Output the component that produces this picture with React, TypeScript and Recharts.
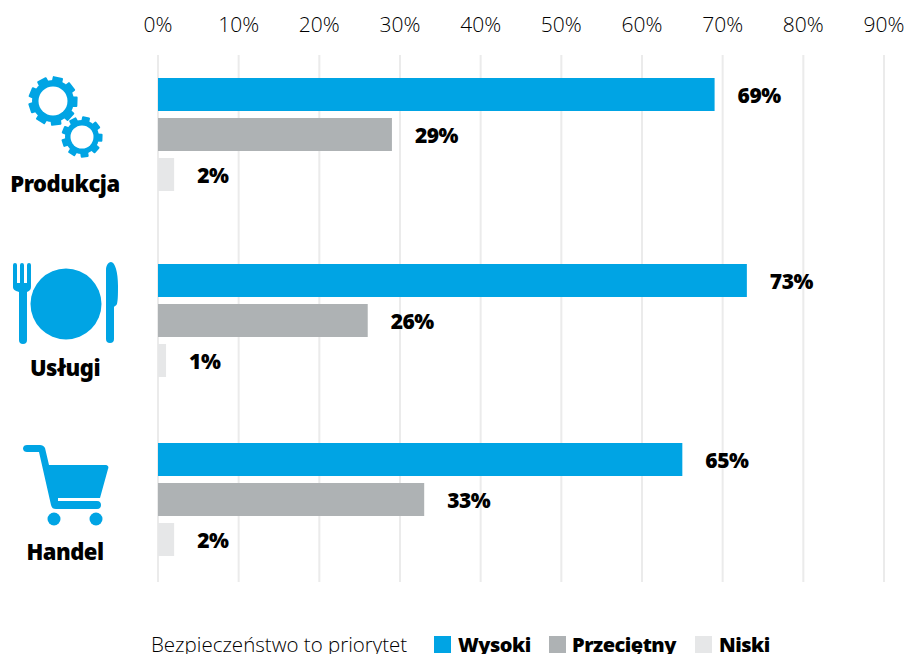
import { BarChart, Bar, XAxis, YAxis, CartesianGrid, LabelList } from 'recharts';

const WIDTH = 907;
const HEIGHT = 654;

const sectors = ['Produkcja', 'Usługi', 'Handel'];
const wysoki = [69, 73, 65];
const przecietny = [29, 26, 33];
const niski = [2, 1, 2];
const percentTicks = [0, 10, 20, 30, 40, 50, 60, 70, 80, 90];
const legendTitle = 'Bezpieczeństwo to priorytet';
const seriesNames = ['Wysoki', 'Przeciętny', 'Niski'];

const BLUE = '#00a4e4';
const GREY = '#aeb2b4';
const LIGHT = '#e6e7e8';
const GRID = '#ebebeb';
const THIN = '"Open Sans", sans-serif';
const HEAVY = '"Noto Sans", sans-serif';

const plotLeft = 158;
const plotRight = WIDTH - 884;
const domain: [number, number] = [0, 90];

// top edge of each sector's band; the band is 2px taller than its three bars
const groupTops = [77, 263, 442];
const groupHeight = 115;

function Gears() {
  const gear = (cx: number, cy: number, r: number, hole: number, teeth: number, toothW: number) => (
    <g>
      <circle cx={cx} cy={cy} r={r} fill={BLUE} />
      {Array.from({ length: teeth }, (_, i) => (
        <rect
          key={i}
          x={cx - toothW / 2}
          y={cy - r - 3.5}
          width={toothW}
          height={7}
          rx={1}
          fill={BLUE}
          transform={`rotate(${(i * 360) / teeth + 12} ${cx} ${cy})`}
        />
      ))}
      <circle cx={cx} cy={cy} r={hole} fill="#fff" />
    </g>
  );
  return (
    <g>
      {gear(53, 101, 21, 14.5, 9, 10.5)}
      {gear(82, 137, 17, 11.5, 9, 8)}
    </g>
  );
}

function Cutlery() {
  return (
    <g fill={BLUE}>
      <circle cx={66} cy={304} r={35.5} />
      <path d="M13 265a1.500 1.500 0 0 1 4 0v18h3v-18a1.500 1.500 0 0 1 4 0v18h3v-18a1.500 1.500 0 0 1 4 0v22c0 3-2 4-4 5v48a4 4 0 0 1-8 0v-48c-3-1-6-2-6-5z" />
      <path d="M106 270c0-4 2-8 5-8 4 0 7 10 7 24 0 7 0 14-1 18-1 2-3 2-3 3v32a4 4 0 0 1-8 0z" />
    </g>
  );
}

function Cart() {
  return (
    <g fill={BLUE}>
      <path d="M27 445h13c2 0 4 1 5 3l4 17h56c3 0 4 2 3 4l-8 29H58v3h39c3 0 4 2 4 4s-1 4-4 4H56c-3 0-4-1-5-4L39 452H27c-2 0-4-1-4-3.500s2-3.500 4-3.500z" />
      <circle cx={54} cy={519} r={6.5} />
      <circle cx={96} cy={519} r={6.5} />
    </g>
  );
}

function SectorLabels() {
  const baselines = [192, 376, 560];
  return (
    <g>
      {sectors.map((name, i) => (
        <text key={name} x={65} y={baselines[i]} textAnchor="middle" fontFamily={HEAVY} fontWeight={900} fontSize={22} letterSpacing={-0.5} fill="#000">
          {name}
        </text>
      ))}
    </g>
  );
}

function PercentLabel(props: any) {
  const { x, y, width, height, value } = props;
  return (
    <text x={x + width + 23} y={y + height / 2 + 8} fontFamily={HEAVY} fontWeight={900} fontSize={21} letterSpacing={-0.5} fill="#000">
      {value}%
    </text>
  );
}

// one sector on its own band, sharing the x scale with the grid layer below
function SectorBars({ index }: { index: number }) {
  const row = [{ name: sectors[index], wysoki: wysoki[index], przecietny: przecietny[index], niski: niski[index] }];
  return (
    <div style={{ position: 'absolute', left: 0, top: groupTops[index] }}>
      <BarChart
        width={WIDTH}
        height={groupHeight}
        data={row}
        layout="vertical"
        barSize={33}
        barGap={7}
        barCategoryGap={0}
        margin={{ top: 0, right: plotRight, bottom: 0, left: plotLeft }}
      >
        <XAxis type="number" domain={domain} hide />
        <YAxis type="category" dataKey="name" hide />
        <Bar dataKey="wysoki" fill={BLUE} isAnimationActive={false}>
          <LabelList dataKey="wysoki" content={PercentLabel} />
        </Bar>
        <Bar dataKey="przecietny" fill={GREY} isAnimationActive={false}>
          <LabelList dataKey="przecietny" content={PercentLabel} />
        </Bar>
        <Bar dataKey="niski" fill={LIGHT} isAnimationActive={false}>
          <LabelList dataKey="niski" content={PercentLabel} />
        </Bar>
      </BarChart>
    </div>
  );
}

// the axis only draws once a series is attached, so this layer carries an unpainted one
function GridLayer() {
  return (
    <div style={{ position: 'absolute', left: 0, top: 0 }}>
      <BarChart
        width={WIDTH}
        height={HEIGHT}
        data={sectors.map((name, i) => ({ name, wysoki: wysoki[i] }))}
        layout="vertical"
        margin={{ top: 25, right: plotRight, bottom: 72, left: plotLeft }}
      >
        <CartesianGrid horizontal={false} stroke={GRID} strokeWidth={2} />
        <XAxis
          type="number"
          orientation="top"
          domain={domain}
          ticks={percentTicks}
          interval={0}
          height={30}
          axisLine={false}
          tickLine={false}
          tickMargin={17}
          tickFormatter={(v: number) => `${v}%`}
          tick={{ fontFamily: THIN, fontWeight: 300, fontSize: 21, fill: '#000' }}
        />
        <YAxis type="category" dataKey="name" hide />
        <Bar dataKey="wysoki" fill="none" isAnimationActive={false} />
      </BarChart>
    </div>
  );
}

function LegendRow() {
  const swatches = [
    { color: BLUE, x: 434, textX: 458 },
    { color: GREY, x: 549, textX: 572 },
    { color: LIGHT, x: 695, textX: 719 },
  ];
  return (
    <g>
      <text x={151} y={652} fontFamily={THIN} fontWeight={300} fontSize={20.5} fill="#000">
        {legendTitle}
      </text>
      {swatches.map((s, i) => (
        <g key={s.x}>
          <rect x={s.x} y={636} width={17} height={17} fill={s.color} />
          <text x={s.textX} y={652} fontFamily={HEAVY} fontWeight={900} fontSize={20} letterSpacing={-0.5} fill="#000">
            {seriesNames[i]}
          </text>
        </g>
      ))}
    </g>
  );
}

export default function App() {
  return (
    <div style={{ position: 'absolute', left: 0, top: 0, width: WIDTH, height: HEIGHT, overflow: 'hidden', background: '#fff' }}>
      <GridLayer />
      {sectors.map((name, i) => (
        <SectorBars key={name} index={i} />
      ))}
      <svg width={WIDTH} height={HEIGHT} style={{ position: 'absolute', left: 0, top: 0, pointerEvents: 'none' }}>
        <Gears />
        <Cutlery />
        <Cart />
        <SectorLabels />
        <LegendRow />
      </svg>
    </div>
  );
}
